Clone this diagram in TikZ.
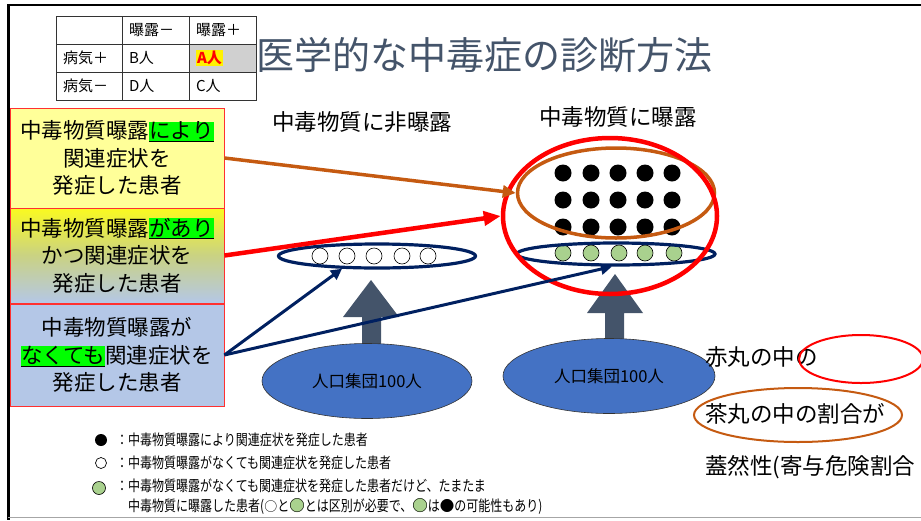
\documentclass[tikz,border=0pt]{standalone}
\usepackage{fontspec}
\setmainfont{Noto Sans CJK JP}
\newfontfamily\legfont[FakeStretch=0.8]{Noto Sans CJK JP}
\usetikzlibrary{shapes.geometric,arrows.meta}
\definecolor{hlgreen}{HTML}{00FF00}
\definecolor{yellowbox}{HTML}{FFFF99}
\definecolor{gyellow}{HTML}{FAFA20}
\definecolor{bluebox}{HTML}{B4C7E7}
\definecolor{brownc}{HTML}{C55A11}
\definecolor{navyc}{HTML}{002060}
\definecolor{slatec}{HTML}{44546A}
\definecolor{popblue}{HTML}{4472C4}
\definecolor{gfill}{HTML}{A9D18E}
\definecolor{cellgrey}{HTML}{D0D0D0}
\definecolor{boxred}{HTML}{FF3030}
\newcommand\hlg[1]{{\setlength{\fboxsep}{0pt}\colorbox{hlgreen}{\underline{#1}}}}
\newcommand\gcirc{{\rmfamily\fontsize{15.5}{15}\selectfont\rlap{\textcolor{gfill}{●}}○}}
\newcommand\wcirc{{\rmfamily\fontsize{13}{15}\selectfont○}}
\newcommand\bcirc{{\rmfamily\fontsize{14.5}{15}\selectfont●}}
\begin{document}
\begin{tikzpicture}[x=1pt,y=-1pt,
  cell/.style={draw=black!80,line width=0.8pt,minimum height=28pt,inner xsep=7pt,inner ysep=0pt,align=left,
    font=\fontsize{15}{18}\selectfont},
  sidebox/.style={draw=boxred,line width=0.8pt,minimum width=214pt,align=center,inner sep=0pt,
    font=\fontsize{21.5}{27.5}\selectfont},
  bdot/.style={circle,fill=black,minimum size=17pt,inner sep=0pt},
  gdot/.style={circle,fill=gfill,draw=black,line width=0.6pt,minimum size=16pt,inner sep=0pt},
  wdot/.style={circle,fill=white,draw=black,line width=0.6pt,minimum size=16pt,inner sep=0pt},
  ring/.style={ellipse,inner sep=0pt},
  pop/.style={ellipse,fill=popblue,draw=black!80,line width=0.6pt,inner sep=0pt,
    font=\fontsize{16.5}{20}\selectfont},
  label/.style={inner sep=0pt,font=\fontsize{22.5}{27}\selectfont},
  leg/.style={inner sep=0pt,anchor=west,font=\legfont\fontsize{15}{18}\selectfont},
  blockarrow/.style={fill=slatec},
]
\useasboundingbox (0,0) rectangle (921,520);
\clip (0,0) rectangle (921,520);
% frame
\draw[line width=2.5pt] (7,5) -- (921,5);
\draw[line width=3pt] (8.5,4) -- (8.5,520);
\draw[gray!70,line width=1pt] (8,517.5) -- (921,517.5);

% table
\node[cell,text width=52pt] (t11) at (89,30) {};
\node[cell,text width=53pt] (t12) at (155.5,30) {曝露－};
\node[cell,text width=53pt] (t13) at (222.5,30) {曝露＋};
\node[cell,text width=52pt] (t21) at (89,58) {病気＋};
\node[cell,text width=53pt] (t22) at (155.5,58) {B人};
\node[cell,text width=53pt,fill=cellgrey] (t23) at (222.5,58) {{\setlength{\fboxsep}{1pt}\colorbox{yellow}{\textcolor{red}{\bfseries A人}}}};
\node[cell,text width=52pt] (t31) at (89,86) {病気－};
\node[cell,text width=53pt] (t32) at (155.5,86) {D人};
\node[cell,text width=53pt] (t33) at (222.5,86) {C人};

% title
\node[anchor=west,inner sep=0pt,text=slatec,font=\fontsize{38}{44}\selectfont] (title) at (256,55) {医学的な中毒症の診断方法};

% left boxes
\node[sidebox,fill=yellowbox,minimum height=100pt] (b1) at (117,158) {中毒物質曝露\hlg{により}\\関連症状を\\発症した患者};
\node[sidebox,top color=gyellow,bottom color=bluebox,middle color=bluebox!50!gyellow!85!gray,minimum height=95pt] (b2) at (117,255.5) {中毒物質曝露\hlg{があり}\\かつ関連症状を\\発症した患者};
\node[sidebox,fill=bluebox,minimum height=102pt] (b3) at (117,355) {中毒物質曝露が\\\hlg{なくても}関連症状を\\発症した患者};

% column labels
\node[label] (lnon) at (362,122) {中毒物質に非曝露};
\node[label] (lexp) at (618,117) {中毒物質に曝露};

% block arrows
\fill[blockarrow] (362,345) -- (362,317) -- (343,317) -- (371,280) -- (399,317) -- (381,317) -- (381,345) -- cycle;
\fill[blockarrow] (605,340) -- (605,313) -- (587,313) -- (615,274) -- (643,313) -- (624,313) -- (624,340) -- cycle;

% population ellipses
\node[pop,minimum width=210pt,minimum height=75pt] (popL) at (367,381) {人口集団100人};
\node[pop,minimum width=212pt,minimum height=75pt] (popR) at (609,376) {人口集団100人};

% dots
\foreach \i/\x in {1/563,2/591,3/618,4/645,5/672}{
  \foreach \j/\y in {1/173,2/200,3/227}{
    \node[bdot] (k\i\j) at (\x,\y) {};
  }
}
\foreach \i/\x in {1/563,2/591,3/619,4/645,5/674}{
  \node[gdot] (g\i) at (\x,253) {};
}
\foreach \i/\x in {1/320,2/347,3/374,4/402,5/428}{
  \node[wdot] (w\i) at (\x,256) {};
}

% rings
\node[ring,draw=navyc,line width=3.2pt,minimum width=197pt,minimum height=24pt] (navyL) at (377,256) {};
\node[ring,draw=navyc,line width=3.2pt,minimum width=198pt,minimum height=22pt] (navyR) at (616,254) {};
\node[ring,draw=brownc,line width=3.5pt,minimum width=197pt,minimum height=90pt] (brownell) at (616,193) {};
\node[ring,draw=red,line width=4.5pt,minimum width=214pt,minimum height=156pt] (redell) at (610,216) {};

% connectors
\draw[brownc,line width=3.5pt,-{Triangle[length=13pt,width=12pt]}] (b1.east) -- (brownell.west);
\draw[red,line width=4.5pt,-{Triangle[length=17pt,width=14pt]}] (b2.east) -- (redell.west);
\draw[navyc,line width=3pt,-{Triangle[length=11pt,width=11pt]}] (b3.east) -- (navyL.200);
\draw[navyc,line width=3pt,-{Triangle[length=11pt,width=11pt]}] (b3.east) -- (navyR.252);

% right-side text
\node[label,anchor=west] (r1) at (705,357) {赤丸の中の};
\node[label,anchor=west] (r2) at (705,414) {茶丸の中の割合が};
\node[label,anchor=west] (r3) at (705,467) {蓋然性(寄与危険割合};
\node[ring,draw=red,line width=2pt,minimum width=124pt,minimum height=48pt] (redS) at (861,359) {};
\node[ring,draw=brownc,line width=2pt,minimum width=208pt,minimum height=54pt] (brownS) at (798,415) {};

% legend
\node[circle,fill=black,minimum size=12pt,inner sep=0pt] (s1) at (101,440) {};
\node[leg] (l1) at (116,440) {：中毒物質曝露により関連症状を発症した患者};
\node[circle,draw=black,line width=0.7pt,minimum size=11pt,inner sep=0pt] (s2) at (101,463) {};
\node[leg] (l2) at (116,463) {：中毒物質曝露がなくても関連症状を発症した患者};
\node[gdot,minimum size=13pt] (s3) at (99,488) {};
\node[leg] (l3) at (116,486) {：中毒物質曝露がなくても関連症状を発症した患者だけど、たまたま};
\node[leg] (l4) at (128,507) {中毒物質に曝露した患者(\wcirc と\gcirc とは区別が必要で、\gcirc は\bcirc の可能性もあり)};
\end{tikzpicture}
\end{document}
